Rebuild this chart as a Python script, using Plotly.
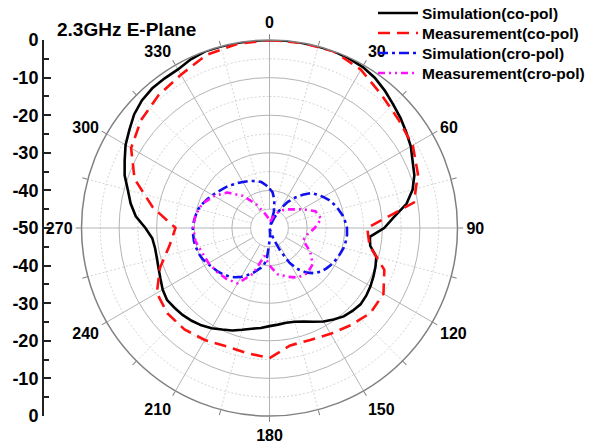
import plotly.graph_objects as go

# ---------------- data ----------------
theta_5 = list(range(0, 360, 5))
theta_10 = list(range(0, 360, 10))

sim_co = [0, 0, 0, 0, 0, -0.2, -0.5, -1.2, -2.3, -3.5, -4.5, -5.6, -6.6, -8.0, -9.0, -10.6,
          -13.0, -16.8, -19.5, -23.2, -22.8, -20.6, -20.0, -19.5, -19.0, -18.6, -18.4, -18.8,
          -19.3, -20.3, -21.3, -22.5, -23.5, -24.2, -24.4, -24.2, -23.9, -23.3, -22.8, -22.0,
          -21.0, -20.2, -19.2, -18.4, -17.8, -17.3, -17.0, -16.7, -17.2, -18.0, -18.6, -19.0,
          -19.1, -18.7, -17.0, -14.3, -12.5, -11.0, -9.0, -7.5, -5.8, -4.5, -3.0, -2.0, -1.5,
          -1.4, -1.3, -0.5, 0, 0, 0, 0]

meas_co = [0, 0, 0, -1.4, -3.7, -5.2, -6.0, -8.0, -11.0, -24.0, -23.0, -17.5, -15.0, -14.9,
           -16.3, -17.5, -18.3, -18.3, -15.4, -16.2, -16.5, -15.6, -14.8, -14.6, -15.4, -19.0,
           -23.0, -25.0, -18.5, -11.8, -7.5, -5.4, -4.0, -2.9, -1.0, -0.3]

sim_cro = [-39.5, -40.5, -42.5, -45.5, -49.5, -47, -44, -41.5, -39.5, -37.5, -35.5, -34.5,
           -33.5, -32.5, -31.7, -31, -30.3, -29.8, -29.4, -29.3, -29.4, -29.6, -30, -30.4,
           -30.8, -31.4, -32, -33, -34.5, -36.5, -39.2, -43.5, -47, -49.5, -49.5, -48, -46.5,
           -41.5, -39.5, -38.6, -37.3, -36.2, -35, -34, -33.2, -32.6, -32, -31.6, -31, -30.4,
           -30, -29.8, -29.6, -29.6, -29.6, -29.8, -30.1, -30.4, -31.1, -31.8, -32.5, -33.2,
           -33.8, -34.3, -34.9, -35.4, -35.9, -36.3, -36.7, -37.1, -37.6, -38.5]

meas_cro = [-48, -48, -46.5, -45, -43.5, -42.3, -40, -37, -36, -38, -39.8, -40.5, -37.5, -35,
            -34.3, -34.8, -36.2, -37.5, -40, -42.5, -37, -33, -32.3, -31.8, -31.3, -30.9, -30,
            -29.7, -30, -31, -33, -35.3, -38.8, -42.5, -45.5, -47]

series_names = ["Simulation(co-pol)", "Measurement(co-pol)",
                "Simulation(cro-pol)", "Measurement(cro-pol)"]

angle_ticks = list(range(0, 360, 15))
angle_labels = [str(a) if a % 30 == 0 else "" for a in angle_ticks]
left_tickvals = list(range(-50, 51, 10))
left_ticktext = [str(-(50 - abs(v))) if abs(v) != 50 else "0" for v in left_tickvals]

R_MIN, R_MAX = -50, 0

# ---------------- page geometry ----------------
W, H = 593, 444


def px(X):
    return X / W


def py(Y):
    return 1 - Y / H


FONT = "Liberation Sans, Arial, sans-serif"
fig = go.Figure()

circle_theta = list(range(0, 361, 2))

# minor dotted circles
for rv in [-35, -25, -15, -5]:
    fig.add_trace(go.Scatterpolar(r=[rv] * len(circle_theta), theta=circle_theta, mode="lines",
                                  line=dict(color="#d4d4d4", width=1, dash="2px,2px"),
                                  showlegend=False, hoverinfo="skip"))
# radial grid lines
for a in range(0, 360, 15):
    major = a % 30 == 0
    fig.add_trace(go.Scatterpolar(r=[-45, 0], theta=[a, a], mode="lines",
                                  line=dict(color="#b4b4b4" if major else "#d4d4d4", width=1,
                                            dash="solid" if major else "2px,2px"),
                                  showlegend=False, hoverinfo="skip"))
# inner white disk
fig.add_trace(go.Scatterpolar(r=[-45] * len(circle_theta), theta=circle_theta, mode="lines",
                              fill="toself", fillcolor="white",
                              line=dict(color="#b4b4b4", width=1),
                              showlegend=False, hoverinfo="skip"))


def closed(th, vals):
    return list(th) + [th[0] + 360], list(vals) + [vals[0]]


styles = [
    dict(color="#000000", width=2.6, dash="solid"),
    dict(color="#ff1010", width=2.6, dash="12px,7px"),
    dict(color="#1010ee", width=2.6, dash="10px,4px,3px,4px"),
    dict(color="#ff10ff", width=2.6, dash="7px,4px,2px,4px,2px,4px"),
]
datasets = [(theta_5, sim_co), (theta_10, meas_co), (theta_5, sim_cro), (theta_10, meas_cro)]
for name, (th, vals), st in zip(series_names, datasets, styles):
    t, v = closed(th, vals)
    fig.add_trace(go.Scatterpolar(r=v, theta=t, mode="lines", name=name, line=st,
                                  showlegend=False))

# left linear axis (dummy trace)
fig.add_trace(go.Scatter(x=[0], y=[0], mode="markers", marker=dict(opacity=0),
                         showlegend=False, hoverinfo="skip", xaxis="x", yaxis="y"))

# manual legend (compact rows as in the reference)
legend_rows_y = [13, 33, 53, 73]
shapes = []
annotations = []
for name, st, ry in zip(series_names, styles, legend_rows_y):
    shapes.append(dict(type="line", xref="paper", yref="paper",
                       x0=px(378), x1=px(418), y0=py(ry), y1=py(ry),
                       line=dict(color=st["color"], width=2.6, dash=st["dash"])))
    annotations.append(dict(text=name, x=px(420), y=py(ry), xref="paper", yref="paper",
                            xanchor="left", yanchor="middle", showarrow=False,
                            font=dict(family=FONT, size=15.5, color="black", weight="bold")))

annotations.append(dict(text="2.3GHz E-Plane", x=px(55), y=py(29), xref="paper", yref="paper",
                        xanchor="left", yanchor="middle", showarrow=False,
                        font=dict(family=FONT, size=19, color="black", weight="bold")))

fig.update_layout(
    template="none",
    width=W, height=H,
    margin=dict(l=0, r=0, t=0, b=0, autoexpand=False),
    paper_bgcolor="white", plot_bgcolor="rgba(0,0,0,0)",
    font=dict(family=FONT, color="black", weight="bold"),
    showlegend=False,
    polar=dict(
        domain=dict(x=[px(81.5), px(457.5)], y=[py(416), py(40)]),
        bgcolor="white",
        radialaxis=dict(range=[R_MIN, R_MAX], tickvals=[-40, -30, -20, -10],
                        showticklabels=False, ticks="", showline=False,
                        gridcolor="#b4b4b4", gridwidth=1),
        angularaxis=dict(rotation=90, direction="clockwise", tickmode="array",
                         tickvals=angle_ticks, ticktext=angle_labels,
                         showgrid=False, ticks="outside", ticklen=5, tickcolor="#808080",
                         linecolor="#808080", linewidth=1.5,
                         tickfont=dict(family=FONT, size=16, color="black", weight="bold")),
    ),
    xaxis=dict(domain=[px(44), px(45)], visible=False, range=[-1, 1], fixedrange=True),
    yaxis=dict(domain=[py(416), py(40)], range=[-50, 50], anchor="x",
               automargin=False,
               tickmode="array", tickvals=left_tickvals, ticktext=left_ticktext,
               ticks="inside", ticklen=7, tickwidth=2, tickcolor="#222",
               showline=True, linecolor="#222", linewidth=2, showgrid=False, zeroline=False,
               minor=dict(tickmode="linear", tick0=-45, dtick=10, ticks="inside",
                          ticklen=5, tickwidth=1.5, tickcolor="#222"),
               tickfont=dict(family=FONT, size=18, color="black", weight="bold")),
    shapes=shapes,
    annotations=annotations,
)

fig.write_html("out.html", config={"displayModeBar": False},
               post_script="document.body.style.margin='0px';")
